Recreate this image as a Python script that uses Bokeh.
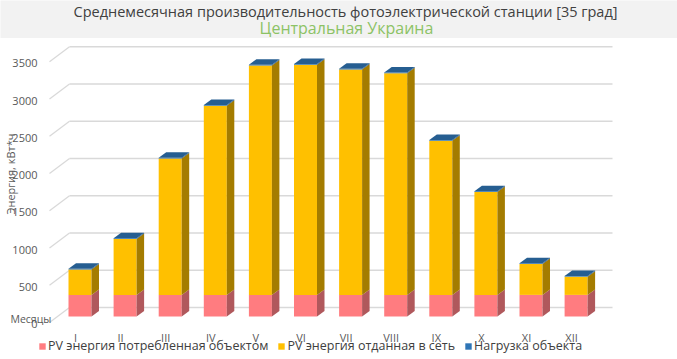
import numpy as np
from bokeh.plotting import figure
from bokeh.models import Label, Legend, LegendItem, Range1d
from bokeh.core.properties import value
from bokeh.layouts import column
from bokeh.embed import file_html
from bokeh.resources import INLINE

# ---------------- data ----------------
months = ["I", "II", "III", "IV", "V", "VI", "VII", "VIII", "IX", "X", "XI", "XII"]
pv_consumed = [290, 290, 290, 290, 290, 290, 290, 290, 290, 290, 290, 290]
pv_to_grid = [340, 750, 1830, 2540, 3080, 3090, 3025, 2975, 2070, 1380, 415, 245]
load = [10, 10, 10, 10, 10, 10, 10, 10, 10, 10, 10, 10]
y_ticks = [0, 500, 1000, 1500, 2000, 2500, 3000, 3500]
y_tick_labels = ["0", "500", "1000", "1500", "2000", "2500", "3000", "3500"]
series_names = ["PV энергия потребленная объектом", "PV энергия отданная в сеть", "Нагрузка объекта"]
title_text = "Среднемесячная производительность фотоэлектрической станции [35 град]"
subtitle_text = "Центральная Украина"
y_title = "Энергия, кВт*ч"
x_title = "Месяцы"

# ---------------- styles / geometry (pixels) ----------------
FONT = "Open Sans"
KX = 45.1          # px per category
KY = 0.0745        # px per kWh
BAR_W_PX = 23
BAR_SHIFT_PX = 4.5
DEPTH_X_PX = 7.5
DEPTH_Y_PX = 5.5
FRONT_LIFT_PX = 6
WALL_LIFT_PX = 15
WALL_X0_PX = -6
WALL_X1_PX = 537
FRONT_EDGE_PX = -26

front_cols = ["#FF7C80", "#FFC000", "#2E75B6"]
side_cols = ["#B0585C", "#A47C00", "#1F4E79"]
top_col = "#265E91"
grid_col = "#D9D9D9"
text_col = "#595959"

W = 677
TITLE_H = 38
MAIN_H = 359 - TITLE_H

bw = BAR_W_PX / KX
bshift = BAR_SHIFT_PX / KX
ddx = DEPTH_X_PX / KX
ddy = DEPTH_Y_PX / KY
lift = FRONT_LIFT_PX / KY
wall_lift = WALL_LIFT_PX / KY
wall_x0 = WALL_X0_PX / KX
wall_x1 = WALL_X1_PX / KX
front_x = FRONT_EDGE_PX / KX

# ---------------- title band ----------------
t = figure(width=W, height=TITLE_H, x_range=Range1d(0, W), y_range=Range1d(TITLE_H, 0),
           toolbar_location=None, output_backend="svg", x_axis_type=None, y_axis_type=None,
           min_border=0, background_fill_color="#F2F2F2", border_fill_color="#F2F2F2",
           outline_line_color=None)
t.add_layout(Label(x=345, y=10.5, text=title_text, text_align="center",
                   text_baseline="middle", text_font=FONT, text_font_size="14.5px",
                   text_color="#404040"))
t.add_layout(Label(x=346, y=27.5, text=subtitle_text, text_align="center",
                   text_baseline="middle", text_font=FONT, text_font_size="16px",
                   text_color="#8CC265"))

# ---------------- main chart ----------------
FRAME_TOP = TITLE_H
FRAME_BOT = 359
LABEL_BASE = 322
X0_REF = 75

x_start = (0 - X0_REF) / KX
x_end = (W - X0_REF) / KX
y_start = -(FRAME_BOT - LABEL_BASE) / KY
y_end = (LABEL_BASE - FRAME_TOP) / KY

p = figure(width=W, height=MAIN_H, x_range=Range1d(x_start, x_end),
           y_range=Range1d(y_start, y_end), toolbar_location=None, output_backend="svg",
           x_axis_type=None, y_axis_type=None, min_border=0,
           outline_line_color=None, background_fill_color="white", border_fill_color="white")

# back wall grid + diagonals
yt = np.array(y_ticks, dtype=float)
p.segment(x0=[wall_x0] * len(yt), y0=yt + wall_lift, x1=[wall_x1] * len(yt), y1=yt + wall_lift,
          line_color=grid_col, line_width=1.3)
p.segment(x0=[front_x] * len(yt), y0=yt, x1=[wall_x0] * len(yt), y1=yt + wall_lift,
          line_color=grid_col, line_width=1.3)

idx = np.arange(len(months), dtype=float)
xc = idx + bshift
series = [np.array(pv_consumed, float), np.array(pv_to_grid, float), np.array(load, float)]
bottoms = np.zeros(len(months))
front_renderers = []
for k, vals in enumerate(series):
    tops = bottoms + vals
    r = p.vbar(x=xc, bottom=bottoms + lift, top=tops + lift, width=bw,
               fill_color=front_cols[k], line_color=None)
    front_renderers.append(r)
    xs_side = [[x + bw / 2, x + bw / 2 + ddx, x + bw / 2 + ddx, x + bw / 2] for x in xc]
    ys_side = [[b + lift, b + lift + ddy, tp + lift + ddy, tp + lift] for b, tp in zip(bottoms, tops)]
    p.patches(xs=xs_side, ys=ys_side, fill_color=side_cols[k], line_color=None)
    bottoms = tops

xs_top = [[x - bw / 2, x + bw / 2, x + bw / 2 + ddx, x - bw / 2 + ddx] for x in xc]
ys_top = [[tp + lift, tp + lift, tp + lift + ddy, tp + lift + ddy] for tp in bottoms]
p.patches(xs=xs_top, ys=ys_top, fill_color=top_col, line_color=None)

# axis tick labels (through the data scales)
p.text(x=[(37 - X0_REF) / KX] * len(y_ticks), y=list(yt - 1.5 / KY), text=y_tick_labels,
       text_align="right", text_baseline="middle", text_font=value(FONT),
       text_font_size="11px", text_color=text_col)
p.text(x=list(idx), y=[-(337 - LABEL_BASE) / KY] * len(months), text=months,
       text_align="center", text_baseline="middle", text_font=value(FONT),
       text_font_size="11px", text_color=text_col)

# axis titles
p.add_layout(Label(x=(10 - X0_REF) / KX, y=(LABEL_BASE - 173.5) / KY, text=y_title,
                   angle=np.pi / 2, text_align="center", text_baseline="middle",
                   text_font=FONT, text_font_size="11px", text_color=text_col))
p.add_layout(Label(x=(10 - X0_REF) / KX, y=(LABEL_BASE - 318) / KY, text=x_title,
                   text_align="left", text_baseline="middle",
                   text_font=FONT, text_font_size="10.5px", text_color=text_col))

legend = Legend(items=[LegendItem(label=series_names[k], renderers=[front_renderers[k]])
                       for k in range(3)],
                orientation="horizontal", location=(38, FRAME_BOT - 354),
                background_fill_alpha=0, border_line_color=None, padding=0, margin=0,
                spacing=9, label_standoff=2, glyph_width=8, glyph_height=8,
                label_height=16, label_text_font=FONT, label_text_font_size="12.5px",
                label_text_color="#404040")
p.add_layout(legend)

layout = column(t, p, spacing=0)
open("out.html", "w").write(file_html(layout, INLINE))
